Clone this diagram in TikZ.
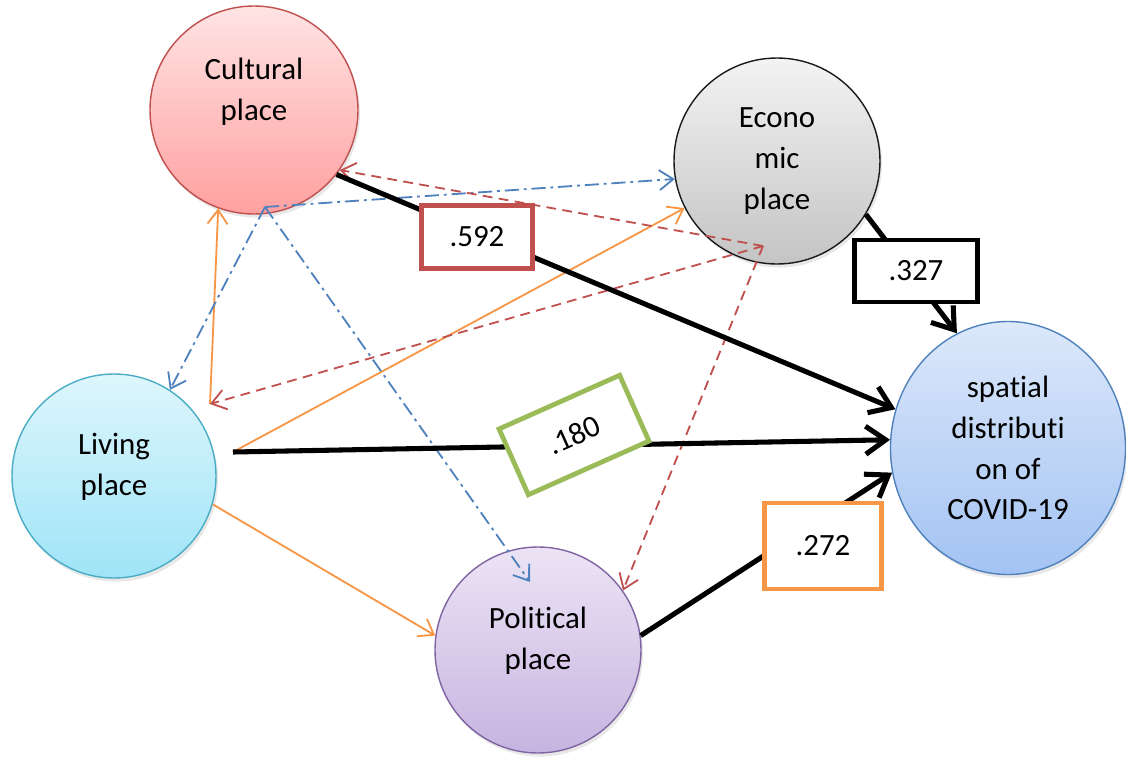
\documentclass[tikz,border=0pt]{standalone}
\usepackage{fontspec}
\setmainfont{Carlito}[Ligatures=NoCommon]
\definecolor{plInk}{HTML}{000000}
\definecolor{plRed}{HTML}{C0504D}
\definecolor{plBlue}{HTML}{4F81BD}
\definecolor{plOrange}{HTML}{F79646}
\definecolor{plGreen}{HTML}{9BBB59}
\definecolor{plPurple}{HTML}{8064A2}
\definecolor{plCyan}{HTML}{4BACC6}
\definecolor{plGrey}{HTML}{1A1A1A}
\usetikzlibrary{arrows.meta,shapes.geometric,shadows}

\begin{document}
\begin{tikzpicture}[x=0.25mm,y=-0.25mm,
                    font=\fontsize{22}{29}\selectfont,
                    place/.style={circle,line width=1pt,align=center,inner sep=0pt,
                                  minimum size=#1,
                                  drop shadow={opacity=.18,shadow xshift=.5mm,shadow yshift=-.9mm}},
                    weight/.style={draw=#1,line width=3.4pt,fill=white,inner sep=0pt},
                    effect/.style={plInk,line width=3.6pt,
                                   -{Straight Barb[length=5mm,width=7mm]}},
                    link/.style={line width=1.3pt,-{Straight Barb[length=3.5mm,width=5mm]}},
                    dashdot/.style={link,plBlue,dash pattern=on 10pt off 3.5pt on 2pt off 3.5pt},
                    dashline/.style={link,plRed,dash pattern=on 7pt off 4.5pt},
                    solidline/.style={link,plOrange}]
  \clip (0,0) rectangle (1126,756);

  \node[place=52mm,draw=plRed,top color={rgb,255:red,255;green,228;blue,228},
        bottom color={rgb,255:red,255;green,160;blue,160},text depth=30pt]
        (cult) at (254,110) {Cultural\\place};
  \node[place=51.5mm,draw=plGrey,top color={rgb,255:red,243;green,243;blue,243},
        bottom color={rgb,255:red,196;green,196;blue,196}]
        (econ) at (777,161) {Econo\\mic\\place};
  \node[place=51mm,draw=plCyan,top color={rgb,255:red,222;green,246;blue,252},
        bottom color={rgb,255:red,158;green,228;blue,247},text depth=17pt]
        (liv) at (114,476) {Living\\place};
  \node[place=51.5mm,draw=plPurple,top color={rgb,255:red,236;green,228;blue,245},
        bottom color={rgb,255:red,198;green,180;blue,224},text depth=17pt]
        (pol) at (538,650) {Political\\place};
  \node[place=10mm,ellipse,draw=plBlue,minimum width=58.75mm,minimum height=63.25mm,
        top color={rgb,255:red,220;green,232;blue,250},
        bottom color={rgb,255:red,163;green,195;blue,243}]
        (spat) at (1008,448) {spatial\\distributi\\on of\\COVID-19};

  % free ends of the connectors
  \coordinate (cultfoot) at (265,207);
  \coordinate (econfoot) at (763,246);
  \coordinate (livmouth) at (233,452);
  \coordinate (livtop) at (210,404);
  \coordinate (polhead) at (530,582);

  \draw[solidline] (livtop) -- (cult.-110);
  \draw[solidline] (livmouth) -- (econ.207);
  \draw[solidline] (liv.-16) -- (pol.172);

  \draw[dashdot] (cultfoot) -- (econ.190);
  \draw[dashdot] (cultfoot) -- (liv.57);
  \draw[dashdot] (cultfoot) -- (polhead);

  \draw[dashline] (econfoot) -- (cult.-35);
  \draw[dashline] (econfoot) -- (livtop);
  \draw[dashline] (econfoot) -- (pol.35);

  \draw[effect] (cult.-38) -- (spat.161);
  \draw[effect] (econ.-31) -- (spat.114);
  \draw[effect] (livmouth) -- (spat.176);
  \draw[effect] (pol.8) -- (spat.192);

  \node[weight=plRed,minimum width=27.75mm,minimum height=15.75mm] (w592) at (477,237) {.592};
  \node[weight=plInk,minimum width=30.75mm,minimum height=15.5mm] (w327) at (916,271) {.327};
  \node[weight=plGreen,minimum width=33mm,minimum height=18mm,rotate=24] (w180) at (574,435) {.180};
  \node[weight=plOrange,minimum width=29.25mm,minimum height=21.5mm] (w272) at (823,546) {.272};
\end{tikzpicture}
\end{document}
